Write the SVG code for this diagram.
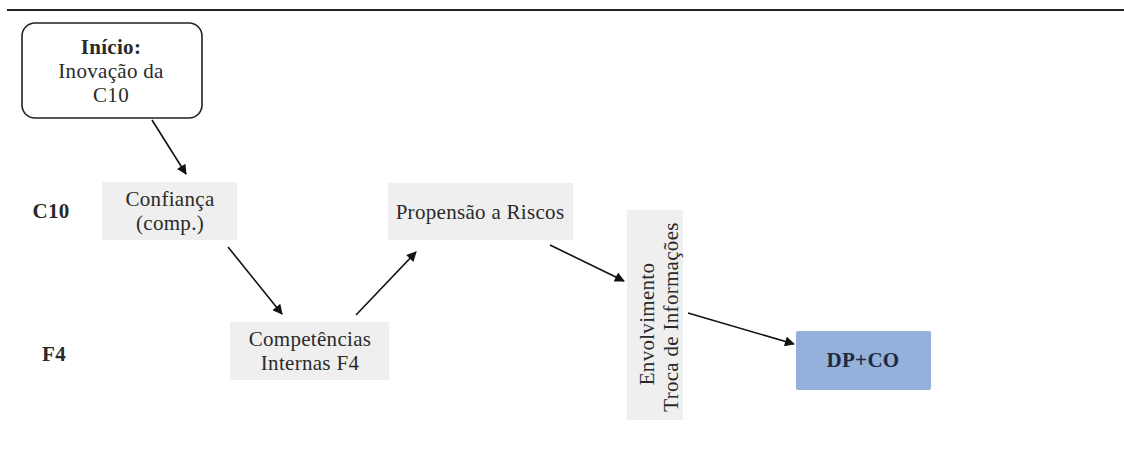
<svg xmlns="http://www.w3.org/2000/svg" width="1124" height="459" viewBox="0 0 1124 459">
  <style>
    text { font-family: "Liberation Serif", "DejaVu Serif", "Times New Roman", serif; font-size: 21px; fill: #2a2a2a; text-anchor: middle; letter-spacing: 0.3px; }
    .b { font-weight: bold; }
    .box { fill: #efefef; }
    .conn line { stroke: #111; stroke-width: 1.6; marker-end: url(#arrow); }
  </style>
  <defs>
    <marker id="arrow" viewBox="0 0 10 10" refX="9" refY="5" markerWidth="12" markerHeight="10" orient="auto" markerUnits="userSpaceOnUse">
      <path d="M0,0 L10,5 L0,10 Z" fill="#111"/>
    </marker>
  </defs>
  <rect width="1124" height="459" fill="#fff"/>
  <line x1="7" y1="10" x2="1124" y2="10" stroke="#222" stroke-width="2"/>

  <g id="row-labels">
    <text class="b" x="51" y="218" font-size="23">C10</text>
    <text class="b" x="54" y="361" font-size="23">F4</text>
  </g>

  <g id="inicio">
    <rect x="22" y="23" width="180" height="95" rx="13" fill="#fff" stroke="#222" stroke-width="1.6"/>
    <text class="b" x="111" y="54">Início:</text>
    <text x="111" y="78">Inovação da</text>
    <text x="111" y="102">C10</text>
  </g>

  <g id="confianca">
    <rect class="box" x="102" y="182" width="135" height="58"/>
    <text x="170" y="206">Confiança</text>
    <text x="170" y="230">(comp.)</text>
  </g>

  <g id="competencias">
    <rect class="box" x="230" y="322" width="159" height="58"/>
    <text x="310" y="346">Competências</text>
    <text x="310" y="370">Internas F4</text>
  </g>

  <g id="propensao">
    <rect class="box" x="388" y="183" width="185" height="57"/>
    <text x="480" y="219">Propensão a Riscos</text>
  </g>

  <g id="envolvimento">
    <rect class="box" x="627" y="210" width="56" height="210"/>
    <text transform="translate(654,324) rotate(-90)">Envolvimento</text>
    <text transform="translate(678,317) rotate(-90)">Troca de Informações</text>
  </g>

  <g id="dpco">
    <rect x="796" y="331" width="135" height="59" rx="2" fill="#95b0da"/>
    <text class="b" x="863" y="367" style="fill:#1c2a44">DP+CO</text>
  </g>

  <g class="conn" id="connectors">
    <line x1="152" y1="120" x2="186" y2="174"/>
    <line x1="228" y1="247" x2="282" y2="314"/>
    <line x1="356" y1="315" x2="416" y2="252"/>
    <line x1="550" y1="245" x2="624" y2="281"/>
    <line x1="688" y1="313" x2="794" y2="344"/>
  </g>
</svg>
